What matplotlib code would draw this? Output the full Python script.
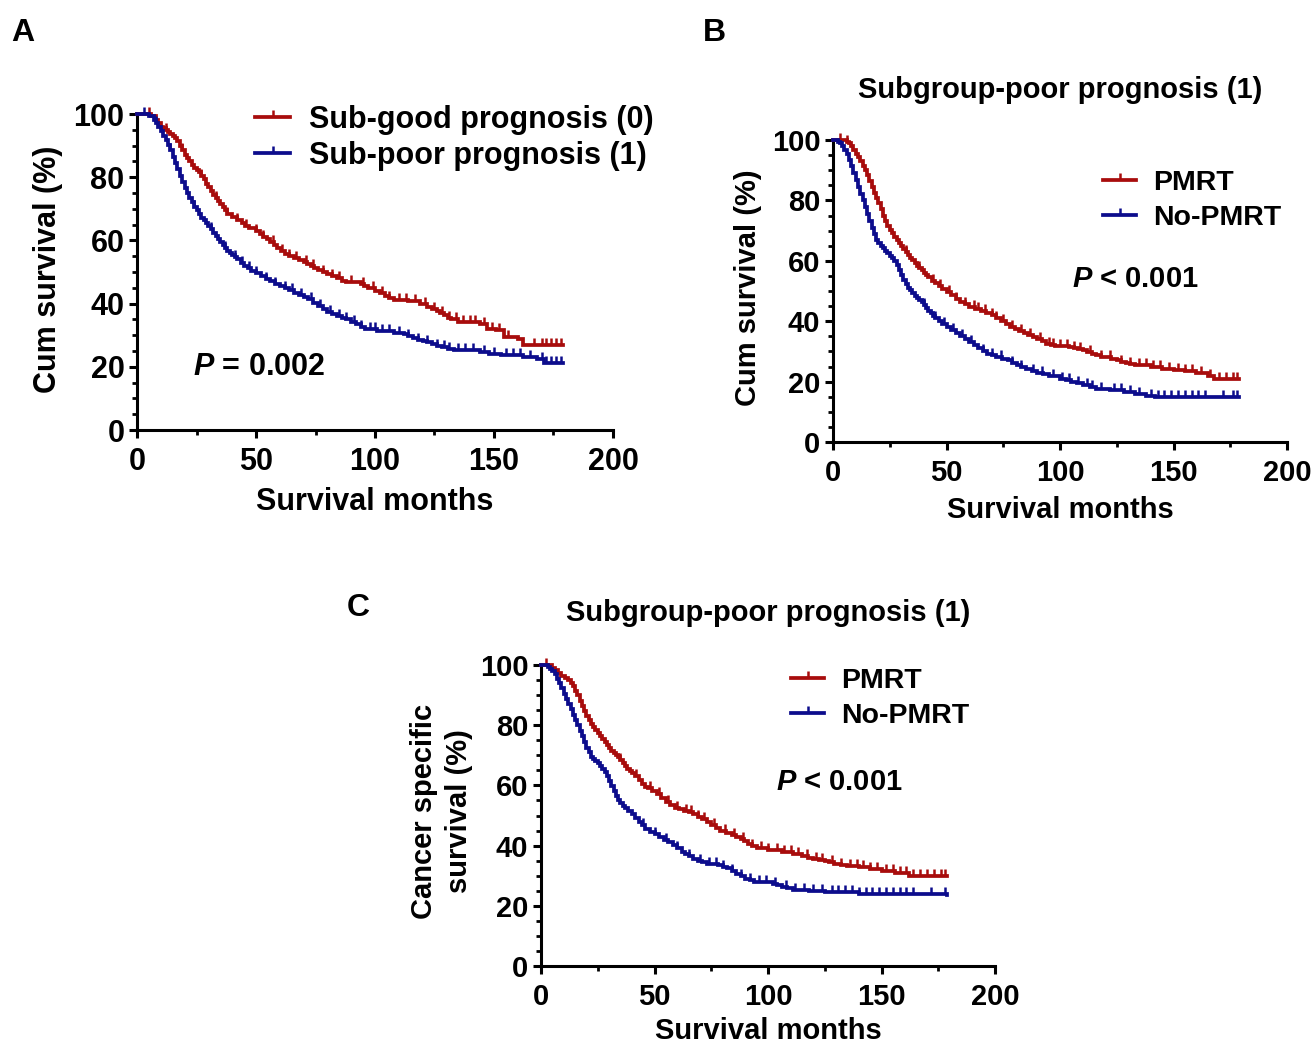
import numpy as np
import matplotlib
matplotlib.use("Agg")
import matplotlib.pyplot as plt
from matplotlib.lines import Line2D

plt.rcParams['font.family'] = ['Liberation Sans', 'DejaVu Sans']
plt.rcParams['font.weight'] = 'bold'
plt.rcParams['mathtext.fontset'] = 'custom'
plt.rcParams['mathtext.it'] = 'Liberation Sans:italic:bold'
plt.rcParams['mathtext.rm'] = 'Liberation Sans:bold'

RED = '#A80C0C'
BLUE = '#0C0C8C'

# ---------------- Panel A ----------------
a_good_t = [0, 4, 6, 8, 9, 10, 11, 12, 13, 14, 15, 16, 17, 18, 19, 20, 21, 22, 23, 24, 25, 26, 27, 28,
            29, 30, 31, 32, 33, 34, 35, 36, 37, 38, 40, 42, 44, 45.5, 47, 50, 51.5, 53, 54.5, 56, 57.5,
            59, 60.5, 62, 64, 66, 68, 70, 71.5, 73, 74.5, 76, 78, 80, 82, 84, 86, 88, 94, 95.5, 97, 100,
            102, 104, 106, 108, 114, 119, 122, 124, 126, 127.5, 129, 130.5, 132, 135, 144, 147, 151,
            154, 160, 162, 179]
a_good_s = [100, 100, 99.5, 98, 97, 96, 95.5, 95, 94.2, 93.8, 93, 92.5, 91.5, 90, 88.5, 87, 86, 85, 84,
            83, 82.3, 81.5, 80.5, 79.3, 78, 76.8, 75.5, 74.5, 73.5, 72.5, 71.5, 70.5, 69.5, 68.5, 67.5,
            66.5, 65.5, 64.7, 64, 63, 62, 61, 60.3, 59.5, 58.5, 57.5, 56.6, 55.7, 55.1, 54.5, 53.9, 53.3,
            52.6, 52, 51.2, 50.5, 50, 49.5, 48.7, 48, 47.3, 46.7, 46.2, 45.6, 45, 44, 43.2, 42.5, 41.8,
            41.2, 40.8, 39.9, 39, 38.4, 37.8, 37, 36.3, 35.6, 35, 34.1, 33.6, 32, 31.5, 29.4, 28.9, 26.8,
            26.8]
a_good_c = [5, 12, 19, 27, 33, 38, 42, 46, 50, 53, 57, 61, 64, 67, 71, 74, 78, 82, 85, 90, 95, 99, 103,
            106, 110, 113, 117, 121, 125, 128, 131, 134, 137, 140, 142, 146, 149, 152, 156, 167, 170,
            172, 174, 176, 178]

a_poor_t = [0, 3, 5, 7, 8, 9, 10, 11, 12, 13, 14, 15, 16, 17, 18, 19, 20, 21, 22, 23, 24, 25, 26, 27,
            28, 29, 30, 31, 32, 33, 34, 35, 36, 37, 38, 39, 40, 41, 42, 43.5, 45, 46.5, 48, 50, 52, 54,
            56, 58, 60, 62, 64, 66, 68, 70, 72, 74, 76, 78, 80, 82, 84, 86, 88, 90, 92, 94, 96, 101,
            108, 112, 114, 116, 118, 120, 122, 124, 126, 128, 130.5, 133, 144, 148, 153, 162, 168, 171,
            179]
a_poor_s = [100, 100, 99.5, 98, 97, 96, 94.5, 93, 91.8, 90.3, 88.5, 86.5, 84.5, 82.5, 80.5, 78.5, 76.7,
            75, 73.5, 72, 70.7, 69.5, 68.3, 67.2, 66.3, 65.4, 64.5, 63.5, 62.5, 61.5, 60.5, 59.5, 58.5,
            57.7, 56.8, 56, 55.3, 54.6, 54, 53, 52, 51.2, 50.4, 49.6, 48.8, 47.9, 47, 46.2, 45.5, 44.8,
            44.2, 43.5, 42.8, 42.1, 41.5, 40.3, 39.2, 38.3, 37.5, 36.7, 36, 35.5, 35, 34.2, 33.5, 32.7,
            32, 31.3, 30.8, 30.3, 29.6, 29, 28.6, 28.2, 27.7, 27.2, 26.7, 26.3, 25.7, 25.2, 24.7, 24,
            23.6, 23.1, 22.5, 21.3, 21.3]
a_poor_c = [3, 8, 14, 24, 31, 37, 41, 44, 47, 50, 54, 58, 62, 65, 69, 73, 77, 81, 85, 88, 91, 94, 98,
            100, 103, 106, 110, 114, 118, 122, 126, 129, 131, 135, 138, 141, 146, 150, 155, 158, 161,
            165, 170, 172, 174, 176, 178]

# ---------------- Panel B ----------------
b_pm_t = [0, 6, 7, 8, 9, 10, 11, 12, 13, 14, 15, 16, 17, 18, 19, 20, 21, 22, 23, 24, 25, 26, 27, 28,
          29, 30, 31, 32, 33, 34, 35, 36, 37, 38, 39, 40, 41, 42, 43.5, 45, 46.5, 48, 50, 52, 54, 56,
          58, 60, 62.5, 65, 67.5, 70, 72, 74, 76, 78, 80, 82, 84, 86, 88, 90, 92, 94, 96, 98, 104, 106,
          108, 110, 112, 114, 116, 118, 120, 122.5, 125, 127, 129, 131, 133, 140, 145, 150, 155, 160,
          165, 168, 179]
b_pm_s = [100, 99.5, 99, 98, 96.8, 95.5, 94.3, 93, 91.5, 90, 88.3, 86.5, 84.5, 82.5, 80.8, 79, 77, 75,
          73.2, 71.5, 70.3, 69.2, 68, 67, 65.9, 64.8, 63.8, 62.8, 61.8, 61, 60.1, 59.3, 58.4, 57.6,
          56.8, 56, 55.2, 54.5, 53.3, 52.5, 51.5, 50.7, 49.8, 48.7, 47.5, 46.5, 45.6, 44.8, 44.1, 43.5,
          42.7, 42, 41, 40.2, 39.1, 38, 37.4, 36.8, 36.1, 35.5, 34.8, 34.2, 33.3, 32.5, 32.1, 31.8,
          31.5, 31.1, 30.8, 30.3, 29.8, 29.2, 28.7, 28.3, 28, 27.5, 27, 26.5, 26, 25.7, 25.4, 24.8,
          24.2, 23.8, 23.4, 23, 22, 21, 21]
b_pm_c = [3, 6, 32, 38, 44, 47, 51, 54, 58, 62, 64, 67, 70, 72, 75, 79, 83, 87, 91, 95, 97, 100, 103,
          106, 109, 113, 118, 122, 127, 131, 135, 138, 141, 144, 148, 152, 155, 158, 162, 166, 170,
          173, 176, 178]

b_no_t = [0, 2, 3, 4, 5, 6, 7, 8, 9, 10, 11, 12, 13, 14, 15, 16, 17, 18, 19, 20, 21, 22, 23, 24, 25,
          26, 27, 28, 29, 30, 31, 32, 33, 34, 35, 36, 37, 38, 39, 40, 41, 42, 43, 44, 45, 46.5, 48, 50,
          52, 54, 56, 58, 60, 62, 64, 66, 68, 70, 72, 74.5, 77, 79, 81, 83, 85, 87.5, 90, 92.5, 95, 100,
          102.5, 105, 107.5, 110, 113, 116, 122, 128, 133, 138, 142, 179]
b_no_s = [100, 99.5, 99, 98, 96.7, 95.2, 93.5, 91.3, 89, 86.8, 84.5, 82.2, 80, 77.8, 75.5, 73.2, 71,
          69, 67, 66, 65, 64.2, 63.3, 62.5, 61.6, 60.8, 60, 58.5, 57, 55.2, 53.5, 52.2, 51, 50.2, 49.3,
          48.5, 47.8, 47.1, 46.5, 45.5, 44.5, 43.5, 42.7, 41.8, 41, 40, 39, 38, 37, 36, 35, 34, 33, 32,
          31, 30.1, 29.3, 28.8, 28.3, 27.6, 27, 26.2, 25.5, 24.8, 24.2, 23.6, 23, 22.4, 21.8, 21, 20.5,
          20, 19.5, 19, 18.3, 17.7, 17.3, 16.7, 16, 15.3, 14.9, 14.9]
b_no_c = [40, 45, 49, 53, 57, 61, 66, 70, 74, 79, 83, 88, 92, 97, 101, 104, 108, 112, 114, 118, 124,
          127, 131, 135, 140, 143, 146, 149, 152, 155, 158, 161, 164, 172, 176, 178]

# ---------------- Panel C ----------------
c_pm_t = [0, 3, 5, 6, 7.5, 9, 10.5, 12, 13, 14, 15, 16, 17, 18, 19, 20, 21, 22, 23, 24, 25, 26, 27, 28,
          29, 30, 31, 32, 33, 34, 35, 36, 37, 38, 39, 40, 41.5, 43, 44.5, 46, 47, 49, 51, 53, 55, 57,
          59, 61, 63, 65, 67, 69, 71, 73, 75, 77, 79, 81.5, 84, 86, 88, 89.5, 91, 93, 95, 100, 106,
          111, 115, 117.5, 120, 122.5, 125, 127, 129, 132, 135, 140, 145, 150, 156, 162, 179]
c_pm_s = [100, 100, 99, 98.5, 97.5, 96.5, 95.8, 95, 94, 93, 91.5, 90, 88.2, 86.5, 84.8, 83, 81.8, 80.5,
          79.4, 78.3, 77.3, 76.3, 75.3, 74.3, 73.3, 72.4, 71.5, 70.8, 70.1, 69.5, 68.5, 67.5, 66.5,
          65.6, 64.8, 64, 63, 61.8, 60.5, 59.5, 59, 58, 57, 55.8, 54.5, 53.5, 52.5, 52, 51.5, 51, 50.5,
          49.6, 48.7, 47.9, 47, 46, 45, 44.2, 43.5, 42.9, 42.3, 41.4, 40.5, 39.8, 39.2, 38.5, 38, 37.3,
          36.5, 36, 35.5, 35.1, 34.8, 34.4, 34, 33.6, 33.3, 32.9, 32.2, 31.5, 30.9, 29.8, 29.8]
c_pm_c = [2, 35, 42, 48, 52, 56, 60, 64, 66, 69, 72, 76, 81, 85, 89, 93, 97, 100, 104, 107, 110, 113,
          117, 121, 124, 128, 132, 136, 139, 142, 145, 148, 152, 155, 158, 161, 164, 167, 170, 173,
          176, 178]

c_no_t = [0, 3, 4, 5, 6, 7, 8, 9, 10, 11, 12, 13, 14, 15, 16, 17, 18, 19, 20, 21, 22, 23, 24, 25, 26,
          27, 28, 29, 30, 31, 32, 33, 34, 35, 36, 37, 38.5, 40, 41.5, 43, 44.5, 46, 48, 50, 52, 54, 56,
          58, 60, 62, 63.5, 65, 67, 69, 71, 73, 78, 80, 82, 84, 86, 88, 90, 92, 94, 102, 104, 106,
          108.5, 111, 118, 125, 140, 179]
c_no_s = [100, 99.5, 98.8, 98, 97, 95.5, 94, 92.2, 90.5, 88.8, 87, 85.3, 83.5, 81.8, 80, 78.2, 76.5,
          74.5, 72.5, 71, 69.5, 68.8, 68.1, 67.5, 66.5, 65.5, 64.5, 63, 61.5, 59.7, 58, 56.5, 55, 54.2,
          53.3, 52.5, 51.5, 50.5, 49.3, 48, 46.7, 45.5, 44.6, 43.8, 42.9, 42, 41.2, 40.3, 39.2, 38,
          37.2, 36.5, 35.7, 35, 34.5, 34, 33.5, 33, 32.5, 31.6, 30.7, 29.8, 29, 28.5, 28, 27.4, 26.8,
          26.3, 25.8, 25.3, 24.8, 24.6, 24, 23.7]
c_no_c = [45, 50, 55, 60, 65, 70, 74, 77, 80, 84, 88, 92, 96, 99, 103, 108, 112, 116, 120, 124, 128,
          131, 134, 137, 140, 143, 146, 149, 152, 155, 158, 161, 164, 172, 178]

x_ticks = [0, 50, 100, 150, 200]
y_ticks = [0, 20, 40, 60, 80, 100]

CENSOR = [(0, 0), (0, 1)]
LW = 2.7
MS = 10

fig = plt.figure(figsize=(13.15, 10.43), dpi=100)


def km(ax, t, s, c, color):
    t = np.asarray(t, float)
    s = np.asarray(s, float)
    ax.step(t, s, where='post', color=color, lw=LW, clip_on=False, zorder=3,
            solid_joinstyle='miter')
    c = np.asarray(c, float)
    idx = np.searchsorted(t, c, side='right') - 1
    ax.plot(c, s[idx], linestyle='none', marker=CENSOR, ms=MS, mew=1.8,
            mec=color, mfc=color, clip_on=False, zorder=3)


def style(ax, fs):
    ax.set_xlim(0, 200)
    ax.set_ylim(0, 100)
    for sp in ['top', 'right']:
        ax.spines[sp].set_visible(False)
    for sp in ['left', 'bottom']:
        ax.spines[sp].set_linewidth(2.2)
    ax.set_xticks(x_ticks)
    ax.set_yticks(y_ticks)
    ax.set_xticks([25, 75, 125, 175], minor=True)
    ax.set_yticks([v for v in range(5, 100, 5) if v % 20], minor=True)
    ax.tick_params(which='major', length=6, width=2.2, labelsize=fs, pad=3)
    ax.tick_params(which='minor', length=3.5, width=2.0)
    ax.tick_params(axis='x', which='major', pad=6.5)
    for lab in ax.get_xticklabels() + ax.get_yticklabels():
        lab.set_fontweight('bold')


def legend(ax, labels, fs, anchor, spacing):
    h = [Line2D([], [], color=RED, lw=LW, marker=CENSOR, ms=MS, mew=1.8),
         Line2D([], [], color=BLUE, lw=LW, marker=CENSOR, ms=MS, mew=1.8)]
    ax.legend(h, labels, loc='upper left', bbox_to_anchor=anchor, frameon=False,
              prop={'size': fs, 'weight': 'bold'}, handlelength=1.15, handletextpad=0.6,
              labelspacing=spacing, borderpad=0, borderaxespad=0, numpoints=1)


# Panel A
axA = fig.add_axes([137 / 1315, 1 - 430 / 1043, 476 / 1315, 316 / 1043])
style(axA, 22)
km(axA, a_good_t, a_good_s, a_good_c, RED)
km(axA, a_poor_t, a_poor_s, a_poor_c, BLUE)
axA.set_xlabel('Survival months', fontsize=22, fontweight='bold')
axA.xaxis.set_label_coords(0.5, -0.18)
axA.set_ylabel('Cum survival (%)', fontsize=22, fontweight='bold')
axA.yaxis.set_label_coords(-0.155, 0.51)
legend(axA, ['Sub-good prognosis (0)', 'Sub-poor prognosis (1)'], 22, (0.248, 1.029), 0.2)
axA.text(0.118, 0.2, '$P$ = 0.002', transform=axA.transAxes, fontsize=22, fontweight='bold',
         ha='left', va='center')

# Panel B
axB = fig.add_axes([833 / 1315, 1 - 442 / 1043, 454 / 1315, 302 / 1043])
style(axB, 21)
km(axB, b_pm_t, b_pm_s, b_pm_c, RED)
km(axB, b_no_t, b_no_s, b_no_c, BLUE)
axB.set_xlabel('Survival months', fontsize=21, fontweight='bold')
axB.xaxis.set_label_coords(0.5, -0.18)
axB.set_ylabel('Cum survival (%)', fontsize=21, fontweight='bold')
axB.yaxis.set_label_coords(-0.157, 0.51)
legend(axB, ['PMRT', 'No-PMRT'], 20.5, (0.595, 0.90), 0.3)
axB.text(0.526, 0.54, '$P$ < 0.001', transform=axB.transAxes, fontsize=21, fontweight='bold',
         ha='left', va='center')
axB.text(0.5, 1.167, 'Subgroup-poor prognosis (1)', transform=axB.transAxes, fontsize=21,
         fontweight='bold', ha='center', va='center')

# Panel C
axC = fig.add_axes([541 / 1315, 1 - 966 / 1043, 454 / 1315, 301 / 1043])
style(axC, 21)
km(axC, c_pm_t, c_pm_s, c_pm_c, RED)
km(axC, c_no_t, c_no_s, c_no_c, BLUE)
axC.set_xlabel('Survival months', fontsize=21, fontweight='bold')
axC.xaxis.set_label_coords(0.5, -0.168)
axC.set_ylabel('Cancer specific\nsurvival (%)', fontsize=21, fontweight='bold', linespacing=1.3)
axC.yaxis.set_label_coords(-0.15, 0.515)
legend(axC, ['PMRT', 'No-PMRT'], 20.5, (0.551, 0.99), 0.3)
axC.text(0.518, 0.611, '$P$ < 0.001', transform=axC.transAxes, fontsize=21, fontweight='bold',
         ha='left', va='center')
axC.text(0.5, 1.172, 'Subgroup-poor prognosis (1)', transform=axC.transAxes, fontsize=21,
         fontweight='bold', ha='center', va='center')

# panel letters
fig.text(23 / 1315, 1 - 33 / 1043, 'A', fontsize=23, fontweight='bold', ha='center', va='center')
fig.text(714 / 1315, 1 - 33 / 1043, 'B', fontsize=23, fontweight='bold', ha='center', va='center')
fig.text(358 / 1315, 1 - 608 / 1043, 'C', fontsize=23, fontweight='bold', ha='center', va='center')

fig.savefig('out.png', dpi=100)
